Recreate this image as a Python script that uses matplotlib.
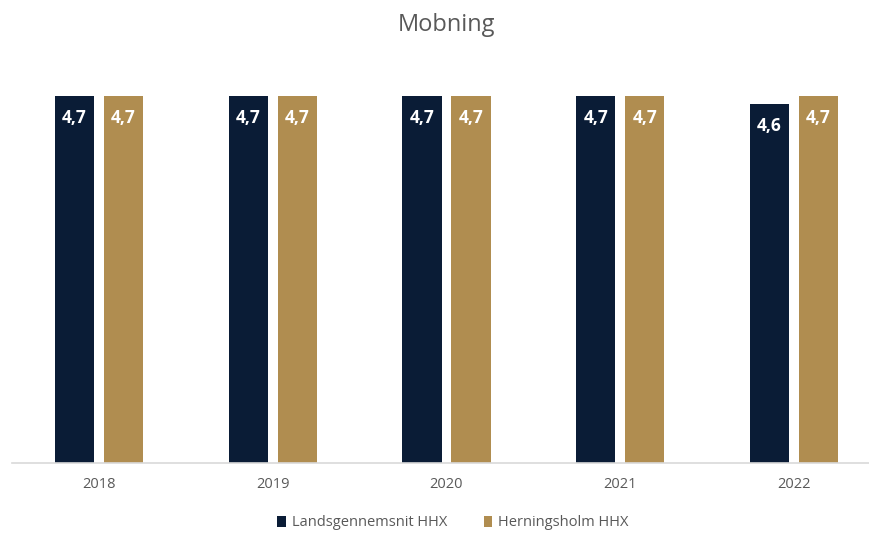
import numpy as np
import matplotlib.pyplot as plt

plt.rcParams['font.family'] = ['Open Sans', 'DejaVu Sans']

years = ['2018', '2019', '2020', '2021', '2022']
landsgennemsnit = [4.7, 4.7, 4.7, 4.7, 4.6]
herningsholm = [4.7, 4.7, 4.7, 4.7, 4.7]
series_names = ['Landsgennemsnit HHX', 'Herningsholm HHX']

dark = '#0A1C36'
gold = '#B08D50'

fig = plt.figure(figsize=(8.69, 5.38), dpi=100)
ax = fig.add_axes([12 / 869, 75 / 538, 869 / 869, 390.4 / 538])

x = np.arange(len(years))
w = 0.2245
off = 0.141

b1 = ax.bar(x - off, landsgennemsnit, w, color=dark, label=series_names[0])
b2 = ax.bar(x + off, herningsholm, w, color=gold, label=series_names[1])

# value labels inside the top of each bar
for bars in (b1, b2):
    for rect in bars:
        h = rect.get_height()
        ax.annotate(f'{h:.1f}'.replace('.', ','),
                    (rect.get_x() + rect.get_width() / 2, h),
                    xytext=(0, -22), textcoords='offset pixels',
                    ha='center', va='center', color='white',
                    fontsize=12.5, fontweight='bold')

ax.set_xlim(-0.5, 4.5)
ax.set_ylim(0, 5)
ax.set_yticks([])
ax.set_xticks(x)
ax.set_xticklabels(years, fontsize=10.5, color='#595959')
ax.tick_params(axis='x', length=0, pad=10)
for s in ['top', 'right', 'left']:
    ax.spines[s].set_visible(False)
ax.spines['bottom'].set_color('#D9D9D9')
ax.spines['bottom'].set_linewidth(1.2)

fig.text(447 / 869, 1 - 25 / 538, 'Mobning', ha='center', va='center',
         fontsize=17, color='#595959')

fig.legend(handles=[b1, b2], loc='center', bbox_to_anchor=(453 / 869, 1 - 523 / 538),
           ncol=2, frameon=False, fontsize=10.5, handlelength=0.6, handleheight=0.7,
           handletextpad=0.4, columnspacing=2.5, labelcolor='#595959')

fig.savefig('out.png', dpi=100)
